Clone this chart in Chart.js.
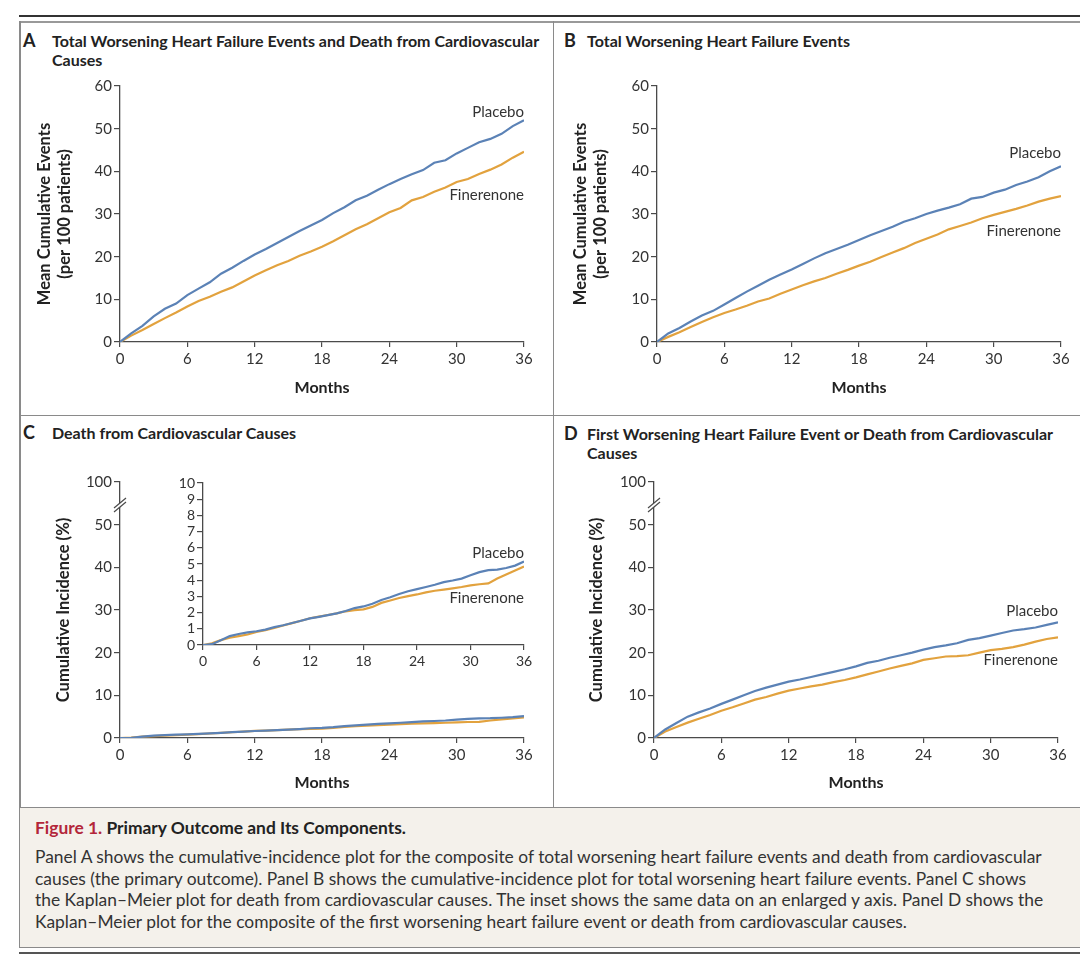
<!DOCTYPE html>
<html>
<head>
<meta charset="utf-8">
<script src="https://cdn.jsdelivr.net/npm/chart.js@4.4.1/dist/chart.umd.min.js"></script>
<style>
  body { margin: 0; width: 1080px; height: 959px; background: #fff; position: relative; overflow: hidden; font-family: Lato, sans-serif; color: #222; }
  .rule { position: absolute; }
  canvas { position: absolute; }
  .ptitle { position: absolute; font-weight: bold; font-size: 16px; line-height: 19px; white-space: nowrap; color: #222; }
  .pletter { position: absolute; font-weight: bold; font-size: 18px; line-height: 19px; color: #222; }
  #caption { position: absolute; left: 19px; top: 807px; width: 1061px; height: 141px; background: #f4f1eb;
             border-top: 1.5px solid #8a8a8a; border-left: 1.5px solid #8a8a8a; border-bottom: 1.5px solid #8a8a8a; box-sizing: border-box; }
  #capTitle { position: absolute; left: 15px; top: 10px; font-size: 17.4px; font-weight: bold; line-height: 20px; white-space: nowrap; color: #222; }
  #capTitle span { color: #b3263a; }
  #capText { position: absolute; left: 15px; top: 38px; font-size: 17.4px; line-height: 21.7px; white-space: nowrap; color: #333; }
</style>
</head>
<body>

<!-- frame lines -->
<div class="rule" style="left:19px;top:15px;width:1061px;height:1.5px;background:#333"></div>
<div class="rule" style="left:19px;top:21px;width:1061px;height:2px;background:#999"></div>
<div class="rule" style="left:19px;top:21px;width:1.5px;height:787px;background:#8a8a8a"></div>
<div class="rule" style="left:552.5px;top:21px;width:1.5px;height:787px;background:#8a8a8a"></div>
<div class="rule" style="left:19px;top:414.5px;width:1061px;height:1.5px;background:#8a8a8a"></div>
<div class="rule" style="left:19px;top:952px;width:1061px;height:1.5px;background:#555"></div>

<!-- panel titles -->
<div class="pletter" style="left:23px;top:31px">A</div>
<div class="ptitle" style="left:52px;top:31px">Total Worsening Heart Failure Events and Death from Cardiovascular<br>Causes</div>
<div class="pletter" style="left:564px;top:31px">B</div>
<div class="ptitle" style="left:587px;top:31px">Total Worsening Heart Failure Events</div>
<div class="pletter" style="left:23px;top:423px">C</div>
<div class="ptitle" style="left:52px;top:423px">Death from Cardiovascular Causes</div>
<div class="pletter" style="left:564px;top:424px">D</div>
<div class="ptitle" style="left:587px;top:424px">First Worsening Heart Failure Event or Death from Cardiovascular<br>Causes</div>

<canvas id="chartA"></canvas>
<canvas id="chartB"></canvas>
<canvas id="chartC"></canvas>
<canvas id="chartInset" style="z-index:2"></canvas>
<canvas id="chartD"></canvas>

<div id="caption">
  <div id="capTitle"><span>Figure 1.</span> Primary Outcome and Its Components.</div>
  <div id="capText">Panel A shows the cumulative-incidence plot for the composite of total worsening heart failure events and death from cardiovascular<br>causes (the primary outcome). Panel B shows the cumulative-incidence plot for total worsening heart failure events. Panel C shows<br>the Kaplan–Meier plot for death from cardiovascular causes. The inset shows the same data on an enlarged y axis. Panel D shows the<br>Kaplan–Meier plot for the composite of the first worsening heart failure event or death from cardiovascular causes.</div>
</div>

<script>
/* ================= DATA ================= */

const months = [0, 1, 2, 3, 4, 5, 6, 7, 8, 9, 10, 11, 12, 13, 14, 15, 16, 17, 18,
                19, 20, 21, 22, 23, 24, 25, 26, 27, 28, 29, 30, 31, 32, 33, 34, 35, 36];
const monthTicks = [0, 6, 12, 18, 24, 30, 36];

// Panel A: total worsening HF events and CV death (mean events per 100 patients)
const placeboA = [0, 2.0, 3.8, 6.0, 7.8, 9.0, 11.0, 12.5, 14.0, 16.0, 17.4, 19.0, 20.5, 21.8, 23.2, 24.6, 26.0, 27.3, 28.6,
                  30.2, 31.6, 33.2, 34.3, 35.7, 37.0, 38.2, 39.3, 40.3, 42.0, 42.6, 44.2, 45.5, 46.8, 47.6, 48.8, 50.6, 52.0];
const finerenoneA = [0, 1.5, 2.8, 4.2, 5.6, 6.9, 8.3, 9.6, 10.6, 11.8, 12.8, 14.2, 15.6, 16.8, 18.0, 19.0, 20.2, 21.2, 22.3,
                     23.6, 25.0, 26.4, 27.6, 29.0, 30.4, 31.4, 33.2, 34.0, 35.2, 36.2, 37.5, 38.2, 39.4, 40.4, 41.6, 43.2, 44.6];

// Panel B: total worsening HF events
const placeboB = [0, 2.0, 3.3, 4.8, 6.2, 7.3, 8.8, 10.3, 11.8, 13.2, 14.6, 15.8, 17.0, 18.3, 19.6, 20.8, 21.8, 22.8, 23.9,
                  25.0, 26.0, 27.0, 28.2, 29.0, 30.0, 30.8, 31.5, 32.3, 33.6, 34.0, 35.0, 35.7, 36.8, 37.6, 38.6, 40.0, 41.2];
const finerenoneB = [0, 1.2, 2.3, 3.5, 4.7, 5.8, 6.8, 7.6, 8.5, 9.5, 10.2, 11.3, 12.3, 13.3, 14.2, 15.0, 16.0, 16.9, 17.9,
                     18.8, 19.9, 21.0, 22.0, 23.2, 24.2, 25.2, 26.4, 27.2, 28.0, 29.0, 29.8, 30.5, 31.2, 32.0, 32.9, 33.6, 34.2];

// Panel C: death from CV causes (%)
const placeboC = [0, 0.05, 0.3, 0.55, 0.68, 0.78, 0.85, 0.95, 1.1, 1.22, 1.36, 1.5, 1.64, 1.74, 1.84, 1.95, 2.1, 2.28, 2.38,
                  2.55, 2.78, 2.95, 3.15, 3.32, 3.45, 3.58, 3.72, 3.88, 3.98, 4.1, 4.3, 4.5, 4.62, 4.65, 4.75, 4.9, 5.15];
const finerenoneC = [0, 0.1, 0.3, 0.45, 0.55, 0.65, 0.8, 0.92, 1.05, 1.2, 1.35, 1.5, 1.65, 1.75, 1.85, 1.95, 2.08, 2.15, 2.2,
                     2.35, 2.6, 2.75, 2.9, 3.02, 3.12, 3.25, 3.35, 3.42, 3.5, 3.58, 3.68, 3.75, 3.8, 4.1, 4.35, 4.6, 4.85];

// Panel D: first worsening HF event or CV death (%)
const placeboD = [0, 2.0, 3.5, 5.0, 6.0, 6.9, 8.0, 9.0, 10.0, 11.0, 11.8, 12.5, 13.2, 13.7, 14.3, 14.9, 15.5, 16.1, 16.8,
                  17.6, 18.1, 18.8, 19.4, 20.0, 20.7, 21.3, 21.7, 22.2, 23.0, 23.4, 24.0, 24.6, 25.2, 25.5, 25.9, 26.5, 27.1];
const finerenoneD = [0, 1.5, 2.6, 3.6, 4.5, 5.4, 6.4, 7.2, 8.1, 9.0, 9.6, 10.4, 11.1, 11.6, 12.1, 12.5, 13.1, 13.6, 14.2,
                     14.9, 15.6, 16.3, 16.9, 17.5, 18.3, 18.7, 19.1, 19.2, 19.4, 20.0, 20.6, 20.9, 21.3, 21.9, 22.6, 23.2, 23.6];

// y ticks: the top tick of C and D stands for 100 above the axis break
const eventTicks = [0, 10, 20, 30, 40, 50, 60];
const incidenceTicks = [0, 10, 20, 30, 40, 50, 60];
const incidenceTickLabels = ["0", "10", "20", "30", "40", "50", "100"];
const insetTicks = [0, 1, 2, 3, 4, 5, 6, 7, 8, 9, 10];

/* ================= STYLE ================= */

const BLUE = "#5b82b6";
const ORANGE = "#e2a23e";
const AXIS = "#4a4a4a";
Chart.defaults.font.family = "Lato, sans-serif";
Chart.defaults.color = "#333";

/* ================= PLUGINS ================= */

const lineLabels = {
    id: "lineLabels",
    afterDatasetsDraw(chart, args, opts) {
        if (!opts.items) return;
        const ctx = chart.ctx;
        ctx.save();
        ctx.font = "15px Lato, sans-serif";
        ctx.fillStyle = "#333";
        ctx.textAlign = "right";
        ctx.textBaseline = "middle";
        opts.items.forEach(it => {
            ctx.fillText(it.text, chart.scales.x.getPixelForValue(it.x), chart.scales.y.getPixelForValue(it.y));
        });
        ctx.restore();
    }
};

const axisBreak = {
    id: "axisBreak",
    afterDraw(chart, args, opts) {
        if (opts.value === undefined) return;
        const ctx = chart.ctx;
        const x = chart.chartArea.left;
        const y = chart.scales.y.getPixelForValue(opts.value);
        ctx.save();
        ctx.fillStyle = "#fff";
        ctx.beginPath();
        ctx.moveTo(x - 6, y + 3); ctx.lineTo(x + 6, y - 7);
        ctx.lineTo(x + 6, y - 3); ctx.lineTo(x - 6, y + 7);
        ctx.closePath();
        ctx.fill();
        ctx.strokeStyle = AXIS;
        ctx.lineWidth = 1.2;
        [[3, -7], [7, -3]].forEach(([a, b]) => {
            ctx.beginPath();
            ctx.moveTo(x - 6, y + a);
            ctx.lineTo(x + 6, y + b);
            ctx.stroke();
        });
        ctx.restore();
    }
};

/* ================= CHARTS ================= */

function series(values) {
    return months.map((m, i) => ({ x: m, y: values[i] }));
}

function panelChart(id, area, o) {
    const PT = 14, PR = 26;
    const lh = 19.5;
    const tickSize = o.tickSize || 15;
    let left, yTitlePad = 0;
    if (o.yTitle) {
        left = Math.round(o.yTitleX - lh / 2 - 2);
        yTitlePad = o.yTitleX - lh / 2 - left;
    } else {
        left = area.l - 32;
    }
    const YW = area.l - left;
    const XH = o.xTitleY ? (o.xTitleY + 9 + 2 - area.b) : 30;
    const w = area.r - area.l + YW + PR;
    const h = area.b - area.t + PT + XH;

    const cv = document.getElementById(id);
    cv.width = w; cv.height = h;
    cv.style.left = left + "px"; cv.style.top = (area.t - PT) + "px";
    cv.style.width = w + "px"; cv.style.height = h + "px";

    const line = (label, values, color) => ({
        label, data: series(values), borderColor: color, borderWidth: 2.2,
        pointRadius: 0, tension: 0, fill: false
    });

    return new Chart(cv, {
        type: "line",
        data: {
            datasets: [
                line("Placebo", o.placebo, BLUE),
                line("Finerenone", o.finerenone, ORANGE)
            ]
        },
        options: {
            responsive: false,
            animation: false,
            layout: { padding: { left: 0, top: PT, right: PR, bottom: 0 } },
            plugins: {
                legend: { display: false },
                tooltip: { enabled: false },
                lineLabels: { items: o.labels },
                axisBreak: { value: o.breakAt }
            },
            scales: {
                x: {
                    type: "linear", min: 0, max: 36,
                    afterBuildTicks: s => { s.ticks = monthTicks.map(v => ({ value: v })); },
                    afterFit: s => { s.height = XH; },
                    ticks: { font: { size: tickSize }, padding: 3, maxRotation: 0, autoSkip: false },
                    grid: { drawOnChartArea: false, tickLength: 5, color: AXIS, lineWidth: 1.2 },
                    border: { color: AXIS, width: 1.3 },
                    title: {
                        display: !!o.xTitleY, text: "Months", color: "#222",
                        font: { size: 16, weight: "bold", lineHeight: "18px" },
                        padding: { top: 0, bottom: 2 }
                    }
                },
                y: {
                    min: 0, max: o.yTicks[o.yTicks.length - 1],
                    afterBuildTicks: s => { s.ticks = o.yTicks.map(v => ({ value: v })); },
                    afterFit: s => { s.width = YW; },
                    ticks: {
                        font: { size: tickSize }, padding: 2, autoSkip: false,
                        callback: (v) => o.yTickLabels ? o.yTickLabels[o.yTicks.indexOf(v)] : String(v)
                    },
                    grid: { drawOnChartArea: false, tickLength: 6, color: AXIS, lineWidth: 1.2 },
                    border: { color: AXIS, width: 1.3 },
                    title: {
                        display: !!o.yTitle, text: o.yTitle, color: "#222",
                        font: { size: 16.5, weight: "bold", lineHeight: lh + "px" },
                        padding: { top: yTitlePad, bottom: 0 }
                    }
                }
            }
        },
        plugins: [lineLabels, axisBreak]
    });
}

panelChart("chartA", { l: 120, r: 524, t: 86, b: 342 }, {
    placebo: placeboA, finerenone: finerenoneA, yTicks: eventTicks,
    yTitle: ["Mean Cumulative Events", "(per 100 patients)"], yTitleX: 45, xTitleY: 388,
    labels: [{ text: "Placebo", x: 36, y: 53.9 }, { text: "Finerenone", x: 36, y: 34.4 }]
});

panelChart("chartB", { l: 657, r: 1061, t: 86, b: 342 }, {
    placebo: placeboB, finerenone: finerenoneB, yTicks: eventTicks,
    yTitle: ["Mean Cumulative Events", "(per 100 patients)"], yTitleX: 581, xTitleY: 388,
    labels: [{ text: "Placebo", x: 36, y: 44.3 }, { text: "Finerenone", x: 36, y: 26.0 }]
});

panelChart("chartC", { l: 120, r: 524, t: 482, b: 738 }, {
    placebo: placeboC, finerenone: finerenoneC, yTicks: incidenceTicks, yTickLabels: incidenceTickLabels,
    yTitle: "Cumulative Incidence (%)", yTitleX: 64, xTitleY: 783, breakAt: 54.6,
    labels: []
});

panelChart("chartInset", { l: 203, r: 524, t: 483, b: 645 }, {
    placebo: placeboC, finerenone: finerenoneC, yTicks: insetTicks, tickSize: 14,
    labels: [{ text: "Placebo", x: 36, y: 5.68 }, { text: "Finerenone", x: 36, y: 2.9 }]
});

panelChart("chartD", { l: 654, r: 1058, t: 482, b: 738 }, {
    placebo: placeboD, finerenone: finerenoneD, yTicks: incidenceTicks, yTickLabels: incidenceTickLabels,
    yTitle: "Cumulative Incidence (%)", yTitleX: 597, xTitleY: 783, breakAt: 54.6,
    labels: [{ text: "Placebo", x: 36, y: 29.8 }, { text: "Finerenone", x: 36, y: 18.3 }]
});
</script>
</body>
</html>
